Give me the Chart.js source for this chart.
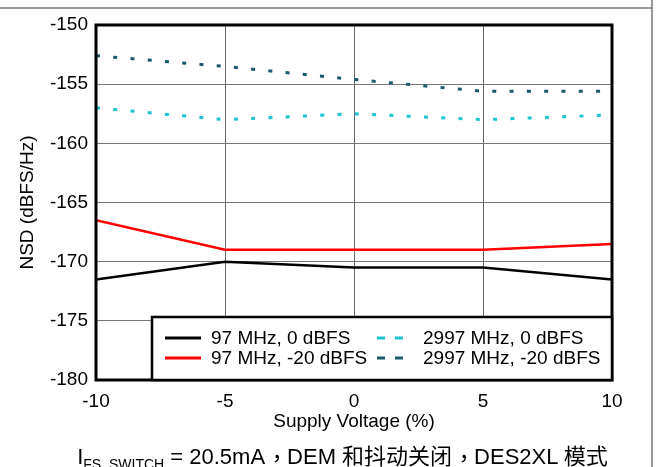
<!DOCTYPE html>
<html>
<head>
<meta charset="utf-8">
<script src="https://cdn.jsdelivr.net/npm/chart.js@4/dist/chart.umd.min.js"></script>
<style>
  html, body { margin: 0; padding: 0; background: #fff; }
  #wrap { position: relative; width: 656px; height: 467px; overflow: hidden; }
  #caption {
    position: absolute; left: 0; width: 685px; top: 438px; text-align: center;
    font-family: "Liberation Sans", Arial, "Noto Sans CJK TC", sans-serif;
    font-size: 22px; color: #000; white-space: nowrap;
  }
  #caption sub { font-size: 14px; vertical-align: -5px; }
  #caption .cm { display: inline-block; width: 22px; text-indent: 1px; overflow: hidden; vertical-align: bottom; }
</style>
</head>
<body>
<div id="wrap">
  <canvas id="chart" width="656" height="467"></canvas>
  <div id="caption">I<sub>FS_SWITCH</sub> = 20.5mA<span class="cm">，</span>DEM 和抖动关闭<span class="cm">，</span>DES2XL 模式</div>
</div>
<script>
// supply voltage (%)
const voltages = [-10, -5, 0, 5, 10];
const seriesNames = ['97 MHz, 0 dBFS', '97 MHz, -20 dBFS', '2997 MHz, 0 dBFS', '2997 MHz, -20 dBFS'];
// NSD (dBFS/Hz)
const nsd97_0 = [-171.5, -170, -170.5, -170.5, -171.5];
const nsd97_20 = [-166.5, -169, -169, -169, -168.5];
const nsd2997_0 = [-157, -158, -157.5, -158, -157.6];
const nsd2997_20 = [-152.6, -153.5, -154.6, -155.6, -155.6];
const yTicks = [-180, -175, -170, -165, -160, -155, -150];
const xTicks = [-10, -5, 0, 5, 10];

const FONT = 'Liberation Sans, Arial, sans-serif';

function pts(ys) {
    return voltages.map((v, i) => ({ x: v, y: ys[i] }));
}

// outer frame + thick plot border
const framePlugin = {
    id: 'frame',
    beforeDraw(chart) {
        const c = chart.ctx;
        c.save();
        c.strokeStyle = '#777';
        c.lineWidth = 1.5;
        c.beginPath();
        c.moveTo(0, 8);
        c.lineTo(652, 8);
        c.moveTo(652, 0);
        c.lineTo(652, 467);
        c.stroke();
        c.restore();
    },
    afterDatasetsDraw(chart) {
        const a = chart.chartArea;
        const c = chart.ctx;
        c.save();
        c.strokeStyle = '#000';
        c.lineWidth = 3;
        c.strokeRect(a.left, a.top, a.right - a.left, a.bottom - a.top);
        c.restore();
    }
};

// legend box sitting inside the plot, bottom right
const boxLegend = {
    id: 'boxLegend',
    afterDraw(chart) {
        const c = chart.ctx;
        const a = chart.chartArea;
        const x0 = 152, y0 = 317;
        c.save();
        c.fillStyle = '#fff';
        c.fillRect(x0, y0, a.right - x0, a.bottom - y0);
        c.strokeStyle = '#000';
        c.lineWidth = 2.5;
        c.strokeRect(x0, y0, a.right - x0, a.bottom - y0);
        c.font = '19px ' + FONT;
        c.textBaseline = 'middle';
        chart.data.datasets.forEach((ds, i) => {
            const col = Math.floor(i / 2), row = i % 2;
            const y = 338 + row * 20;
            const sx = col === 0 ? 165 : 377;
            const sw = col === 0 ? 36 : 26;
            const tx = col === 0 ? 211 : 423;
            c.strokeStyle = ds.borderColor;
            c.lineWidth = 3;
            c.setLineDash(col === 0 ? [] : [8, 10]);
            c.beginPath();
            c.moveTo(sx, y);
            c.lineTo(sx + sw, y);
            c.stroke();
            c.setLineDash([]);
            c.fillStyle = '#000';
            c.fillText(ds.label, tx, y + 1);
        });
        c.restore();
    }
};

new Chart(document.getElementById('chart'), {
    type: 'line',
    data: {
        datasets: [
            { label: seriesNames[0], data: pts(nsd97_0), borderColor: '#000000', borderWidth: 2.5 },
            { label: seriesNames[1], data: pts(nsd97_20), borderColor: '#ff0000', borderWidth: 2.5 },
            { label: seriesNames[2], data: pts(nsd2997_0), borderColor: '#1cc3d0', borderWidth: 3, borderDash: [4, 13.3] },
            { label: seriesNames[3], data: pts(nsd2997_20), borderColor: '#1a5a6e', borderWidth: 3, borderDash: [4, 13.3] }
        ]
    },
    options: {
        responsive: false,
        animation: false,
        elements: { point: { radius: 0 }, line: { tension: 0, borderCapStyle: 'butt' } },
        layout: { padding: { left: 16, right: 44, top: 25, bottom: 34 } },
        plugins: { legend: { display: false }, tooltip: { enabled: false } },
        scales: {
            x: {
                type: 'linear', min: -10, max: 10,
                afterBuildTicks: s => { s.ticks = xTicks.map(v => ({ value: v })); },
                afterFit: s => { s.height = 53; },
                grid: { color: '#666', lineWidth: 1, drawTicks: false },
                border: { display: false },
                ticks: { color: '#000', font: { family: FONT, size: 19 }, padding: 10 },
                title: { display: true, text: 'Supply Voltage (%)', color: '#000',
                         font: { family: FONT, size: 19 }, padding: 0 }
            },
            y: {
                min: -180, max: -150,
                afterBuildTicks: s => { s.ticks = yTicks.map(v => ({ value: v })); },
                afterFit: s => { s.width = 80; },
                grid: { color: '#777', lineWidth: 1, drawTicks: false },
                border: { display: false },
                ticks: { color: '#000', font: { family: FONT, size: 19 }, padding: 8 },
                title: { display: true, text: 'NSD (dBFS/Hz)', color: '#000',
                         font: { family: FONT, size: 19 }, padding: 0 }
            }
        }
    },
    plugins: [framePlugin, boxLegend]
});
</script>
</body>
</html>
